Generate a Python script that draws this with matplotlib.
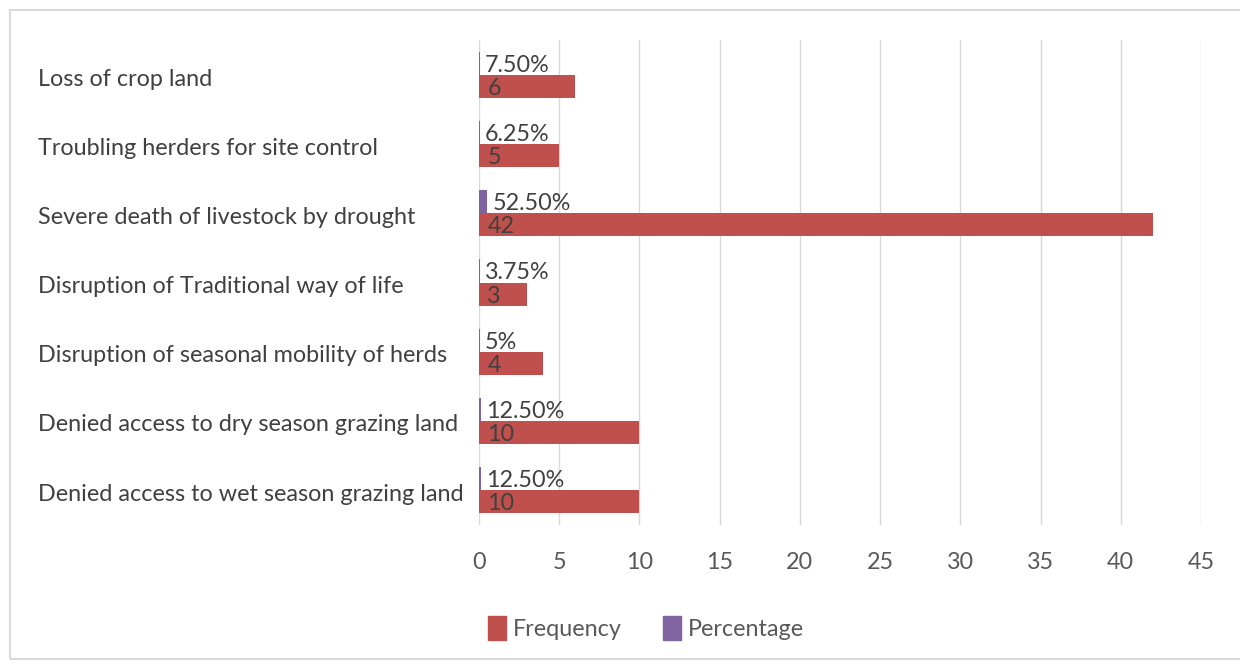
import matplotlib
matplotlib.use("Agg")
import matplotlib.pyplot as plt
import matplotlib.transforms as mtransforms
from matplotlib.patches import Rectangle

plt.rcParams['font.family'] = ['Lato', 'DejaVu Sans']

# data, top to bottom as shown
categories = [
    "Loss of crop land",
    "Troubling herders for site control",
    "Severe death of livestock by drought",
    "Disruption of Traditional way of life",
    "Disruption of seasonal mobility of herds",
    "Denied access to dry season grazing land",
    "Denied access to wet season grazing land",
]
frequency = [6, 5, 42, 3, 4, 10, 10]
percentage = [0.075, 0.0625, 0.525, 0.0375, 0.05, 0.125, 0.125]
pct_labels = ["7.50%", "6.25%", "52.50%", "3.75%", "5%", "12.50%", "12.50%"]

red = "#C0504D"
purple = "#8064A2"
txt = "#404040"
fs = 16.8

fig = plt.figure(figsize=(12.4, 6.67), dpi=100)
ax = fig.add_axes([479 / 1240, 1 - 524.6 / 667, (1201 - 479) / 1240, (524.6 - 40.4) / 667])

n = len(categories)
ypos = [n - 1 - i for i in range(n)]
h = 0.333

ax.barh([y - h / 2 for y in ypos], frequency, height=h, color=red, zorder=3)
ax.barh([y + h / 2 for y in ypos], percentage, height=h, color=purple, zorder=3)

for y, f, p, pl in zip(ypos, frequency, percentage, pct_labels):
    ax.annotate(pl, (p, y + h / 2), xytext=(3.5, 0), textcoords="offset points",
                ha="left", va="center_baseline", fontsize=fs, color=txt, zorder=4)
    ax.annotate(str(f), (0, y - h / 2), xytext=(6, 0), textcoords="offset points",
                ha="left", va="center_baseline", fontsize=fs, color=txt, zorder=4)

# left-aligned category labels
trans = mtransforms.blended_transform_factory(fig.transFigure, ax.transData)
for y, c in zip(ypos, categories):
    fig.text(38 / 1240, y - 0.03, c, transform=trans, ha="left", va="center_baseline",
             fontsize=fs, color=txt)

ax.set_xlim(0, 45)
ax.set_ylim(-0.5, n - 0.5)
ax.set_xticks(range(0, 50, 5))
ax.set_yticks([])
ax.tick_params(axis="x", length=0, pad=20, labelsize=fs, labelcolor="#595959")
ax.grid(axis="x", color="#D9D9D9", linewidth=1, zorder=0)
for s in ax.spines.values():
    s.set_visible(False)

handles = [Rectangle((0, 0), 1, 1, color=red), Rectangle((0, 0), 1, 1, color=purple)]
fig.legend(handles, ["Frequency", "Percentage"], loc="center", bbox_to_anchor=(0.521, 1 - 628 / 667),
           ncol=2, frameon=False, fontsize=fs, handlelength=0.75, handleheight=1.2,
           handletextpad=0.3, columnspacing=1.8, labelcolor="#595959")

# outer chart border
fig.patches.append(Rectangle((10 / 1240, 8 / 667), 1.2, 1 - 18 / 667, transform=fig.transFigure,
                             fill=False, edgecolor="#D9D9D9", linewidth=1.5))

fig.savefig("out.png", dpi=100, facecolor="white")
